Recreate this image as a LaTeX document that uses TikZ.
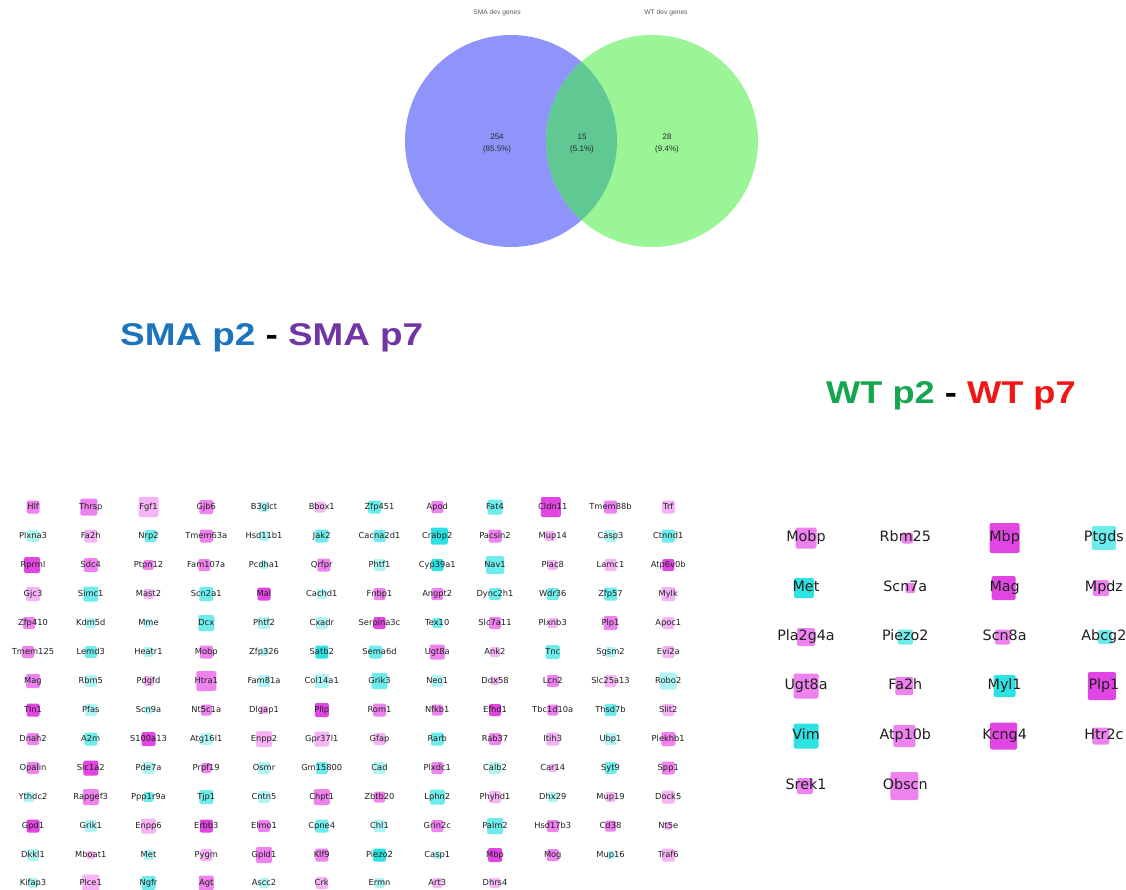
\documentclass[tikz,border=0pt]{standalone}
\usepackage{fontspec}
\setmainfont{DejaVu Sans}
\newfontfamily\arialfont{Liberation Sans}

% highlight colours behind the gene symbols
\definecolor{mL}{RGB}{246,180,246}
\definecolor{mM}{RGB}{238,130,238}
\definecolor{mS}{RGB}{226,70,226}
\definecolor{cL}{RGB}{175,245,245}
\definecolor{cM}{RGB}{110,236,236}
\definecolor{cS}{RGB}{45,226,226}
% Venn colours
\definecolor{vennSMA}{RGB}{142,148,249}
\definecolor{vennWT}{RGB}{154,245,150}
\definecolor{vennBoth}{RGB}{96,200,146}
% title colours
\definecolor{smaBlue}{RGB}{28,116,190}
\definecolor{smaPurple}{RGB}{114,54,164}
\definecolor{wtGreen}{RGB}{22,166,80}
\definecolor{wtRed}{RGB}{240,22,22}

\tikzset{
  gl/.style={font=\fontsize{8.3}{9}\selectfont, text=black!88, inner sep=0pt,
             text height=6.3pt, text depth=1.7pt},
  gr/.style={font=\fontsize{14.3}{16}\selectfont, text=black!88, inner sep=0pt,
             text height=10.5pt, text depth=3pt},
  hl/.style={rounded corners=2pt, inner sep=0pt, draw=none, minimum size=#1},
  setname/.style={font=\arialfont\fontsize{6.7}{8}\selectfont, text=black!65},
  setnum/.style={font=\arialfont\fontsize{8}{12}\selectfont, text=black!85, align=center},
  title/.style={font=\arialfont\bfseries\fontsize{31.5}{34}\selectfont, anchor=base west, inner sep=0pt},
}

% one row of the SMA gene grid: #1 = y, #2 = name/colour/dx/size list
\newcommand\smarow[2]{%
  \foreach \g/\c/\d/\s [count=\i] in {#2}{%
    \pgfmathsetmacro\gx{33+57.75*(\i-1)}
    \node[hl=\s pt, fill=\c] at ({\gx+\d},#1) {};
    \node[gl] (s-\g) at (\gx,#1) {\g};
  }}
% one row of the WT gene grid
\newcommand\wtrow[2]{%
  \foreach \g/\c/\d/\s [count=\i] in {#2}{%
    \pgfmathsetmacro\gx{806+99.3*(\i-1)}
    \node[hl=\s pt, fill=\c] at ({\gx+\d},#1) {};
    \node[gr] (w-\g) at (\gx,#1) {\g};
  }}

\begin{document}
\begin{tikzpicture}[x=1pt,y=-1pt]
\path[use as bounding box, fill=white] (0,0) rectangle (1126,890);

% ---- Venn diagram ----
\fill[vennSMA] (511,141) circle[radius=106pt];
\fill[vennWT] (652,141) circle[radius=106pt];
\begin{scope}
  \clip (511,141) circle[radius=106pt];
  \fill[vennBoth] (652,141) circle[radius=106pt];
\end{scope}
\node[setname] (smaset) at (497,13) {SMA dev genes};
\node[setname] (wtset) at (666,13) {WT dev genes};
\node[setnum] (nsma) at (497,143.5) {254\\(85.5\%)};
\node[setnum] (nboth) at (582,143.5) {15\\(5.1\%)};
\node[setnum] (nwt) at (667,143.5) {28\\(9.4\%)};

% ---- titles ----
\node[title] (smatitle) at (120,345) {\scalebox{1.17}[1]{\textcolor{smaBlue}{SMA p2} - \textcolor{smaPurple}{SMA p7}}};
\node[title] (wttitle) at (826,403) {\scalebox{1.15}[1]{\textcolor{wtGreen}{WT p2} - \textcolor{wtRed}{WT p7}}};

% ---- SMA gene grid ----
\smarow{507}{Hlf/mM/0/13, Thrsp/mM/-2/17, Fgf1/mL/0/20, Gjb6/mM/0/14, B3glct/cL/0/10, Bbox1/mL/-2/11, Zfp451/cM/-5/13, Apod/mM/0/12, Fat4/cM/0/15, Cldn11/mS/-2/20, Tmem88b/mM/0/13, Trf/mL/0/13}
\smarow{536}{Plxna3/cL/0/12, Fa2h/mL/0/13, Nrp2/cM/2/12, Tmem63a/mM/0/13, Hsd11b1/cL/0/10, Jak2/cM/0/13, Cacna2d1/cM/0/12, Crabp2/cS/2/17, Pacsin2/mM/0/13, Mup14/mL/-3/10, Casp3/cL/0/12, Ctnnd1/cM/0/13}
\smarow{565}{Rprml/mS/-1/16, Sdc4/mM/0/14, Ptpn12/mM/0/10, Fam107a/mM/-2/12, Pcdha1/cL/0/8, Qrfpr/mM/2/13, Phtf1/cL/0/12, Cyp39a1/cS/0/12, Nav1/cM/0/18, Plac8/mL/0/10, Lamc1/mL/0/12, Atp6v0b/mS/0/12}
\smarow{594}{Gjc3/mL/0/14, Simc1/cM/0/15, Mast2/mL/0/10, Scn2a1/cM/0/14, Mal/mS/0/13, Cachd1/cL/0/10, Fnbp1/mM/0/12, Angpt2/mM/0/12, Dync2h1/cM/0/12, Wdr36/cM/0/12, Zfp57/cM/0/13, Mylk/mL/0/14}
\smarow{623}{Zfp410/mM/-4/12, Kdm5d/cL/0/10, Mme/cL/0/8, Dcx/cM/0/16, Phtf2/cL/0/12, Cxadr/cL/0/12, Serpina3c/mS/0/12, Tex10/cM/0/10, Slc7a11/mM/0/12, Plxnb3/mL/0/10, Plp1/mM/0/14, Apoc1/mL/0/12}
\smarow{652}{Tmem125/mM/-5/12, Lemd3/cM/0/12, Heatr1/cL/0/10, Mobp/mM/0/13, Zfp326/cL/0/8, Satb2/cS/0/13, Sema6d/cM/-4/13, Ugt8a/mM/0/15, Ank2/mL/0/10, Tnc/cM/0/14, Sgsm2/cL/0/10, Evi2a/mL/0/12}
\smarow{681}{Mag/mM/0/14, Rbm5/cL/0/12, Pdgfd/mL/0/10, Htra1/mM/0/20, Fam81a/cL/0/12, Col14a1/cL/0/14, Grik3/cM/0/16, Neo1/cL/0/12, Ddx58/mL/0/8, Lcn2/mM/0/12, Slc25a13/mL/0/12, Robo2/cL/0/17}
\smarow{710}{Tln1/mS/0/13, Pfas/cL/0/12, Scn9a/cL/0/8, Nt5c1a/mM/0/11, Dlgap1/mL/0/8, Pllp/mS/0/14, Rom1/mM/0/13, Nfkb1/mM/0/11, Efhd1/mS/0/12, Tbc1d10a/mM/0/11, Thsd7b/cM/0/12, Slit2/mL/0/12}
\smarow{739}{Dnah2/mM/0/12, A2m/cM/0/13, S100a13/mS/0/14, Atg16l1/cL/0/12, Enpp2/mL/0/16, Gpr37l1/mL/0/15, Gfap/mL/0/12, Rarb/cM/0/13, Rab37/mM/0/12, Itih3/mL/0/13, Ubp1/cL/0/12, Plekhb1/mM/0/14}
\smarow{768}{Opalin/mM/0/12, Slc1a2/mS/0/15, Pde7a/cL/0/12, Prpf19/mM/0/10, Osmr/cL/0/12, Gm15800/cM/0/12, Cad/cL/0/12, Plxdc1/mM/0/12, Calb2/cL/0/12, Car14/mL/0/8, Syt9/cM/0/12, Spp1/mM/0/13}
\smarow{797}{Ythdc2/cL/-4/10, Rapgef3/mM/0/16, Ppp1r9a/cM/0/10, Tjp1/cM/0/14, Cntn5/cL/0/12, Chpt1/mM/0/16, Zbtb20/mM/0/11, Lphn2/cM/0/15, Phyhd1/mL/0/12, Dhx29/cL/0/10, Mup19/mL/0/10, Dock5/mL/0/13}
\smarow{826}{Gpd1/mS/0/13, Grik1/cL/0/12, Enpp6/mL/0/15, Erbb3/mS/0/13, Elmo1/mM/0/12, Cpne4/cM/0/13, Chl1/cL/0/12, Grin2c/mM/0/12, Palm2/cM/0/16, Hsd17b3/mM/0/12, Cd38/mM/0/11, Nt5e/mL/0/8}
\smarow{855}{Dkkl1/cL/0/12, Mboat1/mL/0/8, Met/cL/0/10, Pygm/mL/0/12, Gpld1/mM/0/16, Klf9/mM/0/13, Piezo2/cS/0/13, Casp1/cL/0/8, Mbp/mS/0/14, Mog/mM/0/12, Mup16/cL/0/8, Traf6/mL/0/13}
\smarow{883}{Kifap3/cL/0/10, Plce1/mL/0/17, Ngfr/cM/0/14, Agt/mM/0/15, Ascc2/cL/0/10, Crk/mL/0/12, Ermn/cL/0/10, Art3/mL/0/10, Dhrs4/mL/0/10}

% ---- WT gene grid ----
\wtrow{538}{Mobp/mM/0/21, Rbm25/mM/2/11, Mbp/mS/0/30, Ptgds/cM/0/24}
\wtrow{588}{Met/cS/-2/20, Scn7a/mM/5/10, Mag/mS/-1/24, Mpdz/mM/-3/16}
\wtrow{637}{Pla2g4a/mM/0/18, Piezo2/cM/0/15, Scn8a/mM/-2/15, Abcg2/cM/1/14}
\wtrow{686}{Ugt8a/mM/0/25, Fa2h/mM/-1/18, Myl1/cS/0/22, Plp1/mS/-2/28}
\wtrow{736}{Vim/cS/0/25, Atp10b/mM/-1/22, Kcng4/mS/-1/27, Htr2c/mM/-3/17}
\wtrow{786}{Srek1/mM/-1/16, Obscn/mM/-1/28}
\end{tikzpicture}
\end{document}
